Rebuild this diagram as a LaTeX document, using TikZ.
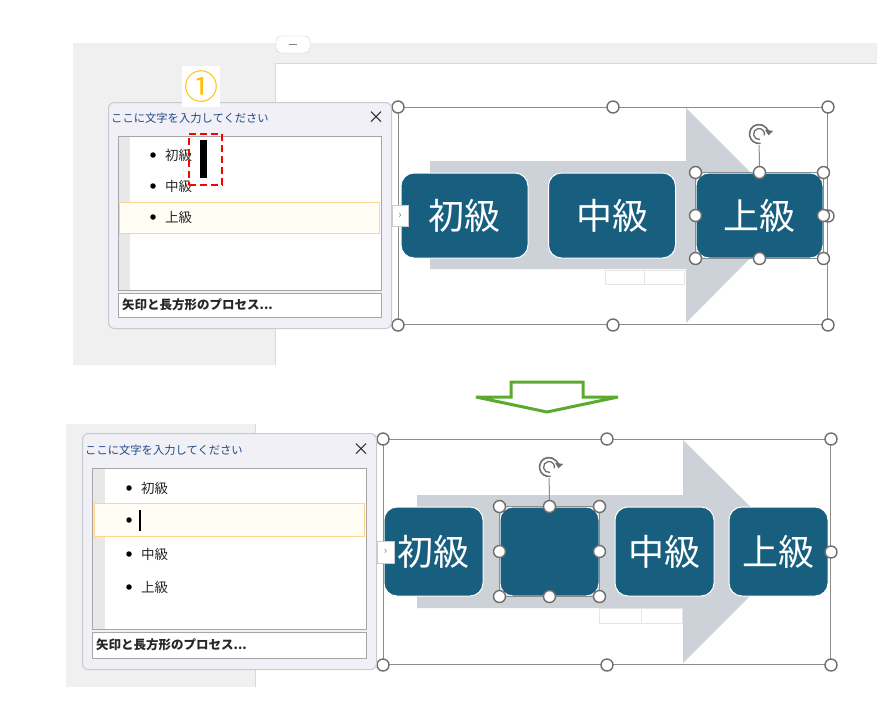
\documentclass[tikz,border=0pt]{standalone}
\usepackage{fontspec}
\usepackage{tikz}
\usetikzlibrary{arrows.meta}
\setmainfont{Noto Sans CJK JP}
\definecolor{boxteal}{HTML}{175E7F}
\definecolor{arrowgray}{HTML}{CDD1D8}
\definecolor{bggray}{HTML}{F0F0F0}
\definecolor{panefill}{HTML}{F0F0F6}
\definecolor{paneborder}{HTML}{C5CAD3}
\definecolor{stripgray}{HTML}{E8E8E8}
\definecolor{framegray}{HTML}{8C8C8C}
\definecolor{handlegray}{HTML}{6E6E6E}
\definecolor{titleblue}{HTML}{1F4A86}
\definecolor{numorange}{HTML}{FFC000}
\definecolor{hlborder}{HTML}{FFD590}
\definecolor{hlfill}{HTML}{FFFDF4}
\definecolor{greenline}{HTML}{5BAA2E}
\definecolor{textdark}{HTML}{262626}

\begin{document}
\begin{tikzpicture}[x=1pt,y=-1pt,
	stepbox/.style={rounded corners=13pt,fill=boxteal,draw=white,line width=1pt,text=white,inner sep=0pt,font=\fontsize{36}{40}\selectfont},
	handle/.style={circle,draw=handlegray,fill=white,line width=1.4pt,inner sep=0pt,minimum size=12pt},
	pane/.style={rounded corners=6pt,fill=panefill,draw=paneborder,line width=1pt,inner sep=0pt,anchor=north west},
	listbox/.style={fill=white,draw=gray!70,line width=0.8pt,inner sep=0pt,anchor=north west},
	hlrow/.style={fill=hlfill,draw=hlborder,line width=1pt,inner sep=0pt,anchor=north west},
	item/.style={anchor=west,inner sep=0pt,text=textdark,font=\fontsize{13.5}{15}\selectfont},
	dot/.style={circle,fill=black,inner sep=0pt,minimum size=5.5pt},
	paneTitle/.style={anchor=west,inner sep=0pt,text=titleblue,font=\fontsize{11.3}{13}\selectfont},
	foot/.style={anchor=west,inner sep=0pt,text=textdark,font=\bfseries\fontsize{12.5}{14}\selectfont},
	tab/.style={fill=white,draw=paneborder,inner sep=0pt,text=gray,font=\fontsize{11}{12}\selectfont},
	iconline/.style={handlegray,line width=1.6pt}]
	\useasboundingbox (0,0) rectangle (886,721);

	\fill[bggray] (73,43) -- (877,43) -- (877,63) -- (275,63) -- (275,365) -- (73,365) -- cycle;
	\draw[gray!30] (275,365) -- (275,63) -- (877,63);
	\draw[gray!40,fill=white,rounded corners=5pt] (276,36) rectangle (310,53);
	\draw[gray,line width=1pt] (289,44) -- (297,44);
	\fill[bggray] (66,424) rectangle (255,687);
	\draw[gray!30] (255,424) -- (255,687);

	\fill[arrowgray] (430,161) -- (686,161) -- (686,108) -- (793,215) -- (686,323) -- (686,269) -- (430,269) -- cycle;
	\fill[arrowgray] (417,495) -- (683,495) -- (683,440) -- (795,551) -- (683,663) -- (683,608) -- (417,608) -- cycle;
	\draw[gray!20,fill=white] (605,270) rectangle (644,284) (644,270) rectangle (684,284);
	\draw[gray!20,fill=white] (599,608) rectangle (641,623) (641,608) rectangle (682,623);

	\node[stepbox,minimum width=127,minimum height=85] (b1) at (464.5,215.5) {初級};
	\node[stepbox,minimum width=127,minimum height=85] (b2) at (612,215.5) {中級};
	\node[stepbox,minimum width=127,minimum height=85] (b3) at (759.5,215.5) {上級};
	\node[stepbox,minimum width=99,minimum height=89] (c1) at (433.5,551.5) {初級};
	\node[stepbox,minimum width=99,minimum height=89] (c2) at (549.5,551.5) {};
	\node[stepbox,minimum width=99,minimum height=89] (c3) at (664.5,551.5) {中級};
	\node[stepbox,minimum width=99,minimum height=89] (c4) at (778.5,551.5) {上級};

	\node[draw=framegray,line width=1pt,inner sep=0pt,anchor=north west,minimum width=429,minimum height=217] (frameA) at (398,107) {};
	\node[draw=framegray,line width=1pt,inner sep=0pt,anchor=north west,minimum width=447,minimum height=225] (frameB) at (383,439) {};
	\draw[framegray,line width=1pt] (b3.north west) rectangle (b3.south east);
	\draw[framegray,line width=1pt] (c2.north west) rectangle (c2.south east);

	\node[circle,minimum size=22pt,inner sep=0pt] (rotA) at (759,134) {};
	\node[circle,minimum size=22pt,inner sep=0pt] (rotB) at (549,467) {};
	\draw[framegray,line width=1pt] (rotA) -- (b3.north);
	\draw[framegray,line width=1pt] (rotB) -- (c2.north);
	\foreach \r in {rotA,rotB} {
		\draw[iconline,-{Triangle[length=5pt,width=8pt]}] ([shift={(-80:9.5pt)}]\r.center) arc[start angle=-80,end angle=-368,radius=9.5pt];
		\draw[iconline,line width=1.3pt] ([shift={(-80:5.5pt)}]\r.center) arc[start angle=-80,end angle=-375,radius=5.5pt];
	}

	\foreach \f in {frameA,frameB,b3,c2} {
		\foreach \a/\n in {north west/nw,north/n,north east/ne,east/e,south east/se,south/s,south west/sw,west/w} {
			\node[handle] (\f\n) at (\f.\a) {};
		}
	}

	\node[tab,minimum width=16,minimum height=21] (tabA) at (400,215.5) {›};
	\node[tab,minimum width=17,minimum height=22] (tabB) at (385.5,552) {›};

	\node[pane,minimum width=283,minimum height=226] (paneA) at (108,102) {};
	\node[paneTitle] (titleA) at (111,118) {ここに文字を入力してください};
	\node[inner sep=0pt,text=textdark,font=\fontsize{17}{17}\selectfont] (closeA) at (376,118) {×};
	\node[listbox,minimum width=263,minimum height=154] (listA) at (118,136) {};
	\fill[stripgray] ([shift={(0.5,0.5)}]listA.north west) rectangle ++(11,153);
	\node[hlrow,minimum width=260,minimum height=31] (rowA) at (119,202) {};
	\node[dot] (dA1) at (153,155) {};
	\node[item] (iA1) at (165,155) {初級};
	\node[dot] (dA2) at (153,186) {};
	\node[item] (iA2) at (165,186) {中級};
	\node[dot] (dA3) at (153,217) {};
	\node[item] (iA3) at (165,217) {上級};
	\node[draw=red,dash pattern=on 7pt off 4pt,line width=2pt,inner sep=0pt,anchor=north west,minimum width=33,minimum height=51] (markA) at (188,133) {};
	\fill[black] (200,140) rectangle (207,178);
	\node[listbox,minimum width=263,minimum height=24] (footA) at (118,293) {};
	\node[foot] (ftA) at (122,305) {矢印と長方形のプロセス...};
	\node[fill=white,inner sep=0pt,minimum width=38,minimum height=41,text=numorange,font=\fontsize{34}{34}\selectfont] (num) at (201,86.5) {①};

	\node[pane,minimum width=294,minimum height=236] (paneB) at (82,433) {};
	\node[paneTitle] (titleB) at (85,450) {ここに文字を入力してください};
	\node[inner sep=0pt,text=textdark,font=\fontsize{17}{17}\selectfont] (closeB) at (361,450) {×};
	\node[listbox,minimum width=274,minimum height=161] (listB) at (92,468) {};
	\fill[stripgray] ([shift={(0.5,0.5)}]listB.north west) rectangle ++(12,160);
	\node[hlrow,minimum width=270,minimum height=33] (rowB) at (94,503) {};
	\node[dot] (dB1) at (129,488) {};
	\node[item] (iB1) at (141,488) {初級};
	\node[dot] (dB2) at (129,520) {};
	\draw[black,line width=1.3pt] (140,510) -- (140,531);
	\node[dot] (dB3) at (129,554) {};
	\node[item] (iB3) at (141,554) {中級};
	\node[dot] (dB4) at (129,587) {};
	\node[item] (iB4) at (141,587) {上級};
	\node[listbox,minimum width=274,minimum height=26] (footB) at (92,632) {};
	\node[foot] (ftB) at (96,645) {矢印と長方形のプロセス...};

	\draw[greenline,line width=3pt,miter limit=2] (511,382) -- (583,382) -- (583,397) -- (618,397) -- (547,412) -- (476,397) -- (511,397) -- cycle;
\end{tikzpicture}
\end{document}
